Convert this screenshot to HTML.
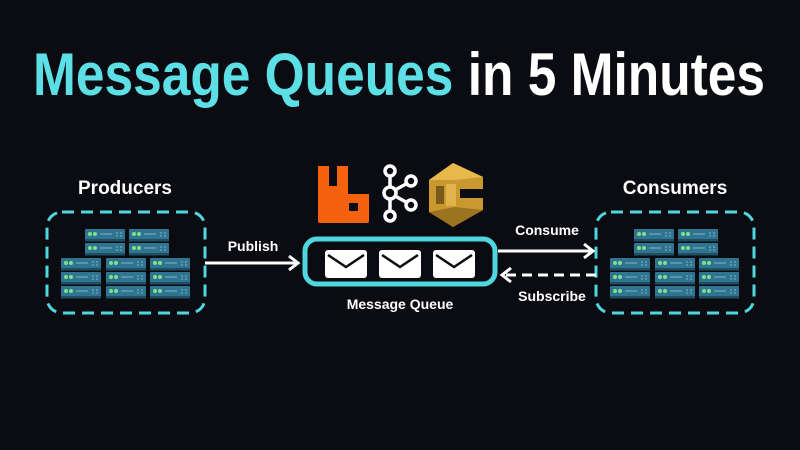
<!DOCTYPE html>
<html><head><meta charset="utf-8"><style>
html,body{margin:0;padding:0;background:#0b0c12;}
svg{display:block}
text{font-family:"Liberation Sans",sans-serif;font-weight:bold}
</style></head><body>
<svg width="800" height="450" viewBox="0 0 800 450" xmlns="http://www.w3.org/2000/svg">
<defs>
<g id="u">
<rect x="0" y="0" width="40" height="12" rx="1" fill="#2f7592"/>
<rect x="0" y="10" width="40" height="2.5" fill="#1f4f63"/>
<circle cx="5" cy="5" r="2" fill="#7ee08a"/>
<circle cx="10" cy="5" r="2" fill="#7ee08a"/>
<rect x="15" y="4" width="12" height="2" fill="#5a93aa"/>
<rect x="31" y="3" width="2" height="2" fill="#5a93aa"/><rect x="35" y="3" width="2" height="2" fill="#5a93aa"/>
<rect x="31" y="6" width="2" height="2" fill="#5a93aa"/><rect x="35" y="6" width="2" height="2" fill="#5a93aa"/>
</g>
<g id="rack">
<use href="#u" x="39" y="229"/><use href="#u" x="39" y="243"/>
<use href="#u" x="83" y="229"/><use href="#u" x="83" y="243"/>
<use href="#u" x="15" y="258"/><use href="#u" x="15" y="272"/><use href="#u" x="15" y="286"/>
<use href="#u" x="60" y="258"/><use href="#u" x="60" y="272"/><use href="#u" x="60" y="286"/>
<use href="#u" x="104" y="258"/><use href="#u" x="104" y="272"/><use href="#u" x="104" y="286"/>
</g>
<g id="env">
<rect x="0" y="0" width="42" height="28" rx="3" fill="#fff"/>
<path d="M3 5 L21 17 L39 5" fill="none" stroke="#0b0c12" stroke-width="2.5"/>
</g>
</defs>

<text x="33" y="95" font-size="60" textLength="732" lengthAdjust="spacingAndGlyphs" fill="#5ce0e6">Message Queues <tspan fill="#fff">in 5 Minutes</tspan></text>

<!-- Producers -->
<text x="125" y="194" font-size="19" fill="#fff" text-anchor="middle">Producers</text>
<rect x="47" y="212" width="158" height="101" rx="15" fill="none" stroke="#4fd6df" stroke-width="3" stroke-dasharray="12 7"/>
<use href="#rack" x="46" y="0"/>

<!-- Consumers -->
<text x="675" y="194" font-size="19" fill="#fff" text-anchor="middle">Consumers</text>
<rect x="596" y="212" width="158" height="101" rx="15" fill="none" stroke="#4fd6df" stroke-width="3" stroke-dasharray="12 7"/>
<use href="#rack" x="595" y="0"/>

<!-- Publish arrow -->
<text x="253" y="251" font-size="14" fill="#fff" text-anchor="middle">Publish</text>
<line x1="205" y1="263" x2="297" y2="263" stroke="#fff" stroke-width="3"/>
<path d="M289 256 L298 263 L289 270" fill="none" stroke="#fff" stroke-width="3"/>

<!-- Consume arrow -->
<text x="547" y="235" font-size="14" fill="#fff" text-anchor="middle">Consume</text>
<line x1="498" y1="251" x2="592" y2="251" stroke="#fff" stroke-width="3"/>
<path d="M584 244 L593 251 L584 258" fill="none" stroke="#fff" stroke-width="3"/>

<!-- Subscribe arrow -->
<line x1="596" y1="275" x2="504" y2="275" stroke="#fff" stroke-width="3" stroke-dasharray="10 6"/>
<path d="M511 268 L502 275 L511 282" fill="none" stroke="#fff" stroke-width="3"/>
<text x="552" y="301" font-size="14" fill="#fff" text-anchor="middle">Subscribe</text>

<!-- Queue -->
<rect x="305" y="239" width="190" height="45" rx="12" fill="#0b0c12" stroke="#4fd6df" stroke-width="5"/>
<use href="#env" x="325" y="250"/>
<use href="#env" x="379" y="250"/>
<use href="#env" x="433" y="250"/>
<text x="400" y="309" font-size="14" fill="#fff" text-anchor="middle">Message Queue</text>

<!-- RabbitMQ -->
<path d="M318 166 h11 v20 h8 v-20 h11 v28 h21 v27 q0 2 -2 2 h-47 q-2 0 -2 -2 z" fill="#f5620f"/>
<rect x="349" y="203" width="9" height="8" rx="1" fill="#0b0c12"/>

<!-- Kafka -->
<g fill="none" stroke="#fff" stroke-width="3.5">
<circle cx="390" cy="171" r="5"/>
<circle cx="390" cy="193" r="6"/>
<circle cx="390" cy="216" r="5"/>
<circle cx="411" cy="181" r="5"/>
<circle cx="411" cy="205" r="5"/>
<line x1="390" y1="176" x2="390" y2="187"/>
<line x1="390" y1="199" x2="390" y2="211"/>
<line x1="395" y1="190" x2="406" y2="184"/>
<line x1="395" y1="196" x2="406" y2="202"/>
</g>

<!-- SQS -->
<path d="M429 180 L453 163 L483 177 L483 189 L460 189 L460 198 L483 198 L483 210 L453 227 L429 212 Z" fill="#c9992f"/>
<path d="M429 180 L453 163 L483 177 L455 180 Z" fill="#e8b94a"/>
<path d="M429 212 L453 227 L483 210 L455 207 Z" fill="#9c7420"/>
<rect x="436" y="186" width="8" height="18" fill="#7a5a18"/>
<rect x="446" y="184" width="10" height="22" fill="#e0b44a"/>
</svg>
</body></html>
